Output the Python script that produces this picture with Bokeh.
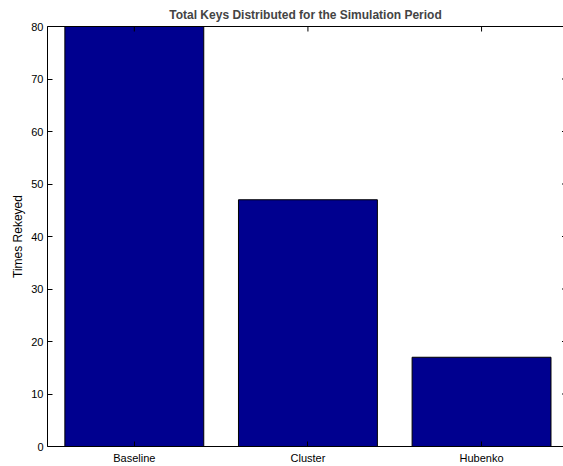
import math
from bokeh.plotting import figure
from bokeh.models import LinearAxis, FixedTicker, Range1d
from bokeh.embed import file_html
from bokeh.resources import INLINE

categories = ["Baseline", "Cluster", "Hubenko"]
positions = [1, 2, 3]
times_rekeyed = [80, 47, 17]
y_ticks = [0, 10, 20, 30, 40, 50, 60, 70, 80]

FONT = "Liberation Sans"
X_START, X_END = 0.5, 3.472
Y_START, Y_END = 0, 80

p = figure(width=563, height=466, output_backend="svg", toolbar_location=None,
           x_range=Range1d(X_START, X_END), y_range=Range1d(Y_START, Y_END),
           x_axis_location=None, y_axis_location=None,
           min_border_left=47, min_border_right=0, min_border_top=26, min_border_bottom=18)
p.outline_line_color = None
p.xgrid.visible = False
p.ygrid.visible = False
p.background_fill_color = "white"
p.border_fill_color = "white"

p.vbar(x=positions, top=times_rekeyed, width=0.8, bottom=0,
       fill_color="#00008F", line_color="black", line_width=1)

# top-edge inward ticks and right-edge inward ticks (box axes without labels)
p.scatter(x=positions, y=[Y_END] * len(positions), marker="dash", angle=math.pi / 2,
          size=10, line_color="black", line_width=1)
p.scatter(x=[X_END] * len(y_ticks), y=y_ticks, marker="dash", size=3,
          line_color="black", line_width=1)

def style(ax):
    ax.major_tick_in = 5
    ax.major_tick_out = 0
    ax.minor_tick_in = 0
    ax.minor_tick_out = 0
    ax.axis_line_color = "black"
    ax.major_tick_line_color = "black"
    ax.major_label_text_font = FONT
    ax.major_label_text_font_size = "11px"
    ax.major_label_text_color = "black"
    ax.axis_label_text_font = FONT
    ax.axis_label_text_font_size = "12px"
    ax.axis_label_text_font_style = "normal"
    ax.axis_label_text_color = "black"

# left axis
yl = LinearAxis(ticker=FixedTicker(ticks=y_ticks), axis_label="Times Rekeyed")
style(yl)
yl.major_label_standoff = 4
yl.axis_label_standoff = 3
p.add_layout(yl, "left")

# bottom axis
xb = LinearAxis(ticker=FixedTicker(ticks=positions),
                major_label_overrides={pos: c for pos, c in zip(positions, categories)})
style(xb)
xb.major_label_standoff = 5
p.add_layout(xb, "below")

# top axis line (box)
xt = LinearAxis(ticker=FixedTicker(ticks=[]))
style(xt)
xt.major_label_standoff = 0
p.add_layout(xt, "above")

p.title.text = "Total Keys Distributed for the Simulation Period"
p.title.text_font = FONT
p.title.text_font_size = "12px"
p.title.text_font_style = "bold"
p.title.align = "center"
p.title.standoff = 10
p.title.offset = 0

open("out.html", "w").write(file_html(p, INLINE))
